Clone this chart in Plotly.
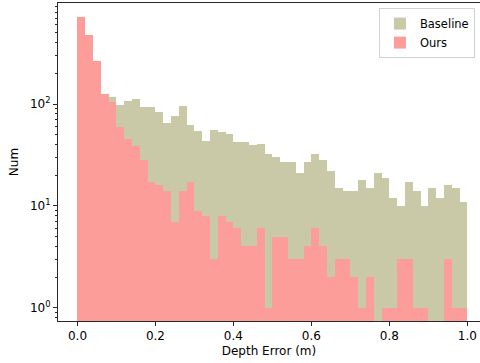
import numpy as np
import plotly.graph_objects as go

# Histogram bins (Depth Error in m): 50 equal bins between 0 and 1
bin_start = 0.0
bin_end = 1.0
n_bins = 50

baseline_counts = [123, 137, 102, 114, 117, 99, 108, 111, 94, 93,
                   84, 65, 77, 96, 62, 55, 43, 56, 53, 51,
                   42, 42, 40, 41, 32, 30, 27, 27, 21, 27,
                   32, 28, 22, 15, 14, 14, 18, 15, 21, 19,
                   12, 10, 17, 14, 10, 15, 12, 16, 15, 11]

ours_counts = [721, 477, 267, 126, 106, 59, 45, 39, 28, 17,
               16, 14, 7, 14, 17, 9, 8, 3, 8, 7,
               6, 4, 4, 6, 1, 5, 5, 3, 3, 4,
               6, 4, 2, 3, 3, 2, 1, 2, 0, 1,
               1, 3, 3, 1, 1, 0, 0, 3, 1, 1]

x_ticks = [0.0, 0.2, 0.4, 0.6, 0.8, 1.0]
x_tick_labels = ["0.0", "0.2", "0.4", "0.6", "0.8", "1.0"]
y_ticks = [1, 10, 100]
y_tick_labels = ["10<sup>0</sup>", "10<sup>1</sup>", "10<sup>2</sup>"]
y_minor_ticks = [0.8, 0.9, 2, 3, 4, 5, 6, 7, 8, 9,
                 20, 30, 40, 50, 60, 70, 80, 90,
                 200, 300, 400, 500, 600, 700, 800, 900]

edges = np.linspace(bin_start, bin_end, n_bins + 1)
centers = (edges[:-1] + edges[1:]) / 2
width = edges[1] - edges[0]

def clean(vals):
    return [v if v > 0 else None for v in vals]

font = "DejaVu Sans, Liberation Sans, sans-serif"
fig = go.Figure()
fig.add_trace(go.Bar(x=centers, y=clean(baseline_counts), width=width,
                     name="Baseline", marker=dict(color="rgb(201,201,168)", line=dict(width=0))))
fig.add_trace(go.Bar(x=centers, y=clean(ours_counts), width=width,
                     name="Ours", marker=dict(color="rgb(253,157,154)", line=dict(width=0))))

fig.update_layout(
    width=480, height=363,
    margin=dict(l=58, r=0, t=3, b=42, autoexpand=False),
    barmode="overlay", bargap=0,
    plot_bgcolor="white", paper_bgcolor="white",
    font=dict(family=font, size=12, color="black"),
    legend=dict(x=0.988, y=0.984, xanchor="right", yanchor="top",
                bordercolor="rgb(210,210,210)", borderwidth=1,
                bgcolor="rgba(255,255,255,0.8)", font=dict(size=11.5),
                tracegroupgap=0, itemwidth=30),
    showlegend=True,
)
fig.update_xaxes(range=[-0.05, 1.0326], tickvals=x_ticks, ticktext=x_tick_labels,
                 automargin=False,
                 showline=True, linecolor="rgb(40,40,40)", linewidth=1, mirror=True,
                 ticks="outside", ticklen=4, tickcolor="rgb(40,40,40)", showgrid=False, zeroline=False,
                 title=dict(text="Depth Error (m)", font=dict(size=12), standoff=4))
fig.update_yaxes(type="log", range=[-0.131, 2.993], tickvals=y_ticks, ticktext=y_tick_labels,
                 automargin=False,
                 showline=True, linecolor="rgb(40,40,40)", linewidth=1, mirror=False,
                 ticks="outside", ticklen=4, tickcolor="rgb(40,40,40)", showgrid=False, zeroline=False,
                 minor=dict(tickmode="array", tickvals=y_minor_ticks, ticks="outside", ticklen=2,
                            tickcolor="rgb(40,40,40)", showgrid=False),
                 title=dict(text="Num", font=dict(size=12), standoff=8))

fig.write_html("out.html", config={"displayModeBar": False},
               post_script="document.body.style.margin='0px';document.body.style.overflow='hidden';")
